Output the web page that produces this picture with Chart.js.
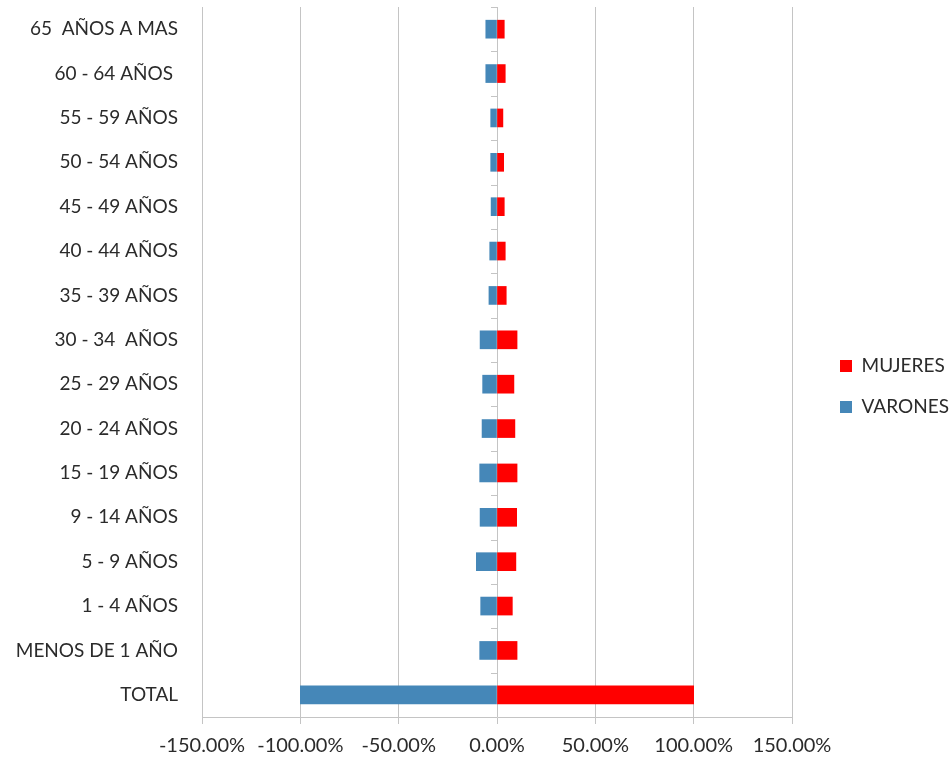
<!DOCTYPE html>
<html>
<head>
<meta charset="utf-8">
<script src="https://cdn.jsdelivr.net/npm/chart.js@4.4.0/dist/chart.umd.min.js"></script>
<style>
  html, body { margin: 0; padding: 0; background: #fff; }
</style>
</head>
<body>
<canvas id="pyramidChart" width="951" height="758"></canvas>
<script>
// age groups, top to bottom as in the picture
var ageGroups = ['65  AÑOS A MAS', '60 - 64 AÑOS ', '55 - 59 AÑOS', '50 - 54 AÑOS', '45 - 49 AÑOS',
  '40 - 44 AÑOS', '35 - 39 AÑOS', '30 - 34  AÑOS', '25 - 29 AÑOS', '20 - 24 AÑOS',
  '15 - 19 AÑOS', '9 - 14 AÑOS', '5 - 9 AÑOS', '1 - 4 AÑOS', 'MENOS DE 1 AÑO', 'TOTAL'];

// percentages (varones shown on the negative side)
var mujeres = [3.7, 4.2, 3.0, 3.4, 3.7, 4.2, 4.7, 10.2, 8.6, 9.1, 10.2, 10.0, 9.6, 7.8, 10.2, 100];
var varones = [-5.7, -5.7, -3.2, -3.2, -3.0, -3.7, -4.1, -8.6, -7.3, -7.6, -8.8, -8.6, -10.5, -8.3, -8.8, -100];

var xMin = -150, xMax = 150, xStep = 50;

var gridGray = '#c4c4c4';
var textColor = '#2b2b2b';
var fontName = 'Lato, "Open Sans", sans-serif';

// little tick marks on the zero axis between the categories
var zeroAxisTicks = {
  id: 'zeroAxisTicks',
  afterDatasetsDraw: function(chart) {
    var x = chart.scales.x, y = chart.scales.y, ctx = chart.ctx;
    var x0 = x.getPixelForValue(0);
    ctx.save();
    ctx.strokeStyle = gridGray;
    ctx.lineWidth = 1;
    ctx.beginPath();
    for (var i = 0; i <= ageGroups.length; i++) {
      var py = Math.round(y.getPixelForValue(i - 0.5)) + 0.5;
      ctx.moveTo(x0 - 6, py);
      ctx.lineTo(x0, py);
    }
    ctx.stroke();
    ctx.restore();
  }
};

// nudge the legend a bit away from the plot, like the excel one
var legendNudge = {
  id: 'legendNudge',
  afterLayout: function(chart) {
    var lg = chart.legend;
    if (!lg) return;
    lg.left += 26; lg.right += 26;
    lg.top += 4; lg.bottom += 4;
  }
};

var ctx = document.getElementById('pyramidChart').getContext('2d');
var chart = new Chart(ctx, {
  type: 'bar',
  data: {
    labels: ageGroups,
    datasets: [{
      label: 'MUJERES',
      data: mujeres,
      backgroundColor: '#ff0000',
      borderWidth: 0,
      barThickness: 18
    }, {
      label: 'VARONES',
      data: varones,
      backgroundColor: '#4587b8',
      borderWidth: 0,
      barThickness: 18
    }]
  },
  options: {
    indexAxis: 'y',
    responsive: false,
    animation: false,
    layout: { padding: { top: 7, right: -8, left: 0, bottom: 0 } },
    plugins: {
      tooltip: { enabled: false },
      legend: {
        position: 'right',
        labels: {
          boxWidth: 12,
          boxHeight: 12,
          padding: 22,
          color: textColor,
          font: { family: fontName, size: 19 }
        }
      }
    },
    scales: {
      x: {
        min: xMin,
        max: xMax,
        ticks: {
          stepSize: xStep,
          color: textColor,
          padding: 10,
          maxRotation: 0,
          font: { family: fontName, size: 20 },
          callback: function(v) { return v.toFixed(2) + '%'; }
        },
        grid: { color: gridGray, tickColor: gridGray, tickLength: 7 },
        border: { color: gridGray },
        afterFit: function(scale) {
          scale.height = 41;
          scale.paddingLeft = 0;
          scale.paddingRight = 159;
        }
      },
      y: {
        stacked: true,
        grid: { display: false },
        border: { display: false },
        ticks: {
          color: textColor,
          padding: 16,
          font: { family: fontName, size: 19 }
        },
        afterFit: function(scale) {
          scale.width = 202;
          scale.paddingTop = 0;
          scale.paddingBottom = 0;
        }
      }
    }
  },
  plugins: [zeroAxisTicks, legendNudge]
});
</script>
</body>
</html>
